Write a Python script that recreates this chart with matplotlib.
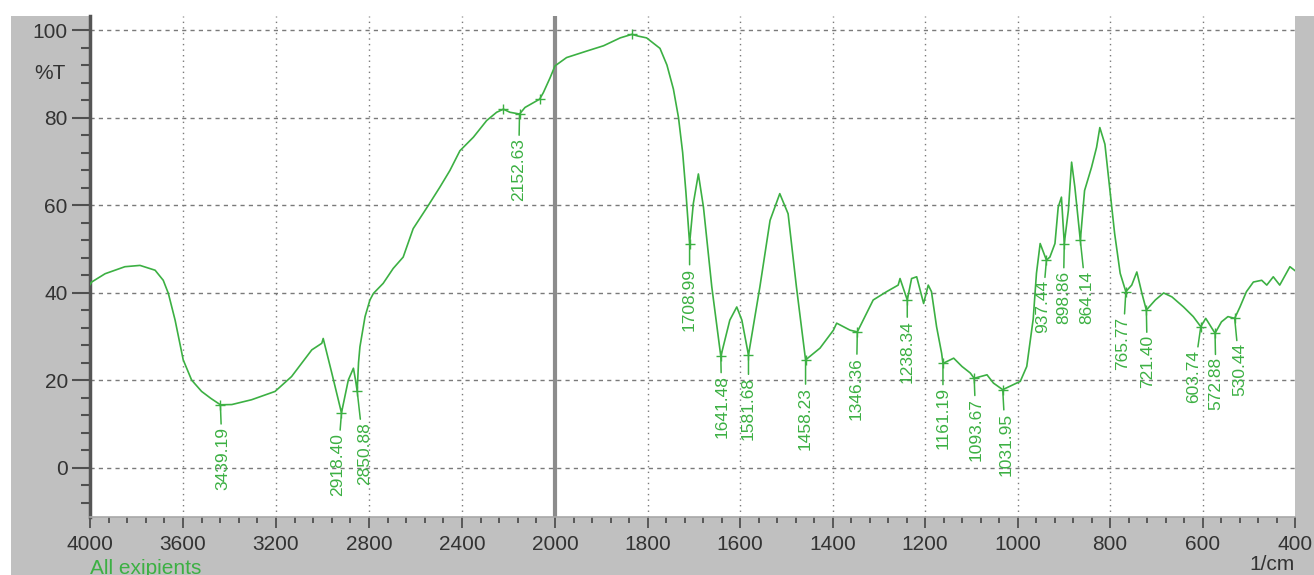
import numpy as np
import matplotlib
matplotlib.use("Agg")
import matplotlib.pyplot as plt
from matplotlib.patches import Rectangle

plt.rcParams['font.family'] = ['Liberation Sans', 'DejaVu Sans']

# ---------------- data ----------------
wavenumber = [4000, 3993, 3935, 3850, 3785, 3720, 3685, 3663, 3634, 3599, 3563, 3520, 3480,
              3439.19, 3390, 3305, 3204, 3133, 3046, 3003, 2997, 2960, 2918.40, 2889, 2867,
              2858, 2850.88, 2845, 2839, 2817, 2796, 2781, 2739, 2696, 2653, 2610, 2545, 2495,
              2452, 2409, 2351, 2294, 2251, 2222, 2194, 2152.63, 2129, 2093, 2066, 2050, 2021,
              2000, 1975, 1931, 1895, 1859, 1834, 1820, 1802, 1773, 1758, 1744, 1733, 1724,
              1717, 1708.99, 1701, 1690, 1679, 1661, 1641.48, 1622, 1607, 1596, 1581.68, 1557,
              1535, 1514, 1496, 1478, 1458.23, 1427, 1398, 1391, 1362, 1346.36, 1312, 1283,
              1258, 1254, 1238.34, 1229, 1218, 1203, 1193, 1186, 1175, 1164, 1161.19, 1138,
              1120, 1102, 1093.67, 1066, 1052, 1031.95, 994, 980, 966, 959, 951, 937.44, 930,
              919, 912, 905, 898.86, 890, 883, 876, 864.14, 855, 840, 829, 822, 811, 800, 790,
              778, 765.77, 753, 742, 731, 721.40, 702, 684, 666, 641, 620, 603.74, 593, 572.88,
              559, 545, 530.44, 519, 505, 490, 472, 461, 447, 433, 411, 400]
transmittance = [41.8, 42.4, 44.3, 45.9, 46.2, 45.1, 42.8, 39.8, 33.7, 24.6, 20.0, 17.4, 15.8,
                 14.35, 14.4, 15.5, 17.4, 20.8, 26.9, 28.4, 29.5, 21.6, 12.5, 20.0, 22.7,
                 20.0, 17.5, 24.0, 27.6, 34.5, 38.3, 39.8, 42.1, 45.5, 48.1, 54.6, 59.9, 64.1,
                 67.9, 72.4, 75.5, 79.3, 81.2, 81.9, 81.2, 80.8, 82.3, 83.4, 84.2, 85.7, 89.1,
                 91.8, 93.7, 95.2, 96.4, 98.2, 99.0, 98.6, 98.2, 95.8, 92.0, 86.5, 80.0, 72.0,
                 63.0, 51.2, 60.3, 67.1, 59.5, 41.3, 25.4, 33.7, 36.7, 33.7, 25.7, 41.3,
                 56.5, 62.6, 58.0, 41.3, 24.6, 27.3, 31.4, 33.0, 31.4, 31.0, 38.3, 40.2,
                 41.7, 43.2, 38.3, 43.2, 43.6, 37.5, 41.7, 40.2, 32.2, 26.1, 23.8, 25.0,
                 23.1, 21.6, 20.4, 21.2, 19.3, 17.8, 19.7, 23.1, 34.0, 44.4, 51.2, 47.4, 48.1,
                 51.2, 59.5, 61.8, 51.2, 58.8, 69.8, 64.1, 51.9, 63.3, 68.6, 73.2, 77.7, 73.9,
                 63.3, 53.5, 44.4, 40.2, 41.7, 44.7, 39.8, 36.0, 38.3, 39.9, 39.0, 36.7, 34.5,
                 32.2, 34.1, 30.7, 33.3, 34.5, 34.1, 36.7, 40.2, 42.4, 42.8, 41.7, 43.6, 41.7,
                 45.9, 45.0]

peak_labels = [3439.19, 2918.40, 2850.88, 2152.63, 1708.99, 1641.48, 1581.68, 1458.23,
               1346.36, 1238.34, 1161.19, 1093.67, 1031.95, 937.44, 898.86, 864.14,
               765.77, 721.40, 603.74, 572.88, 530.44]
extra_marks = [2222, 2066, 1834]

x_major = [4000, 3600, 3200, 2800, 2400, 2000, 1800, 1600, 1400, 1200, 1000, 800, 600, 400]
y_major = [0, 20, 40, 60, 80, 100]

# label offsets in pixels (dx right, dy down) from peak
label_offsets = {3439.19: (2, 22), 2918.40: (-4, 20), 2850.88: (7, 31), 2152.63: (-1, 24),
                 1708.99: (0, 24), 1641.48: (1, 19), 1581.68: (0, 22), 1458.23: (0, 27),
                 1346.36: (-1, 25), 1238.34: (0, 20), 1161.19: (0, 24), 1093.67: (2, 20),
                 1031.95: (3, 23), 937.44: (-4, 20), 898.86: (-1, 27), 864.14: (6, 30),
                 765.77: (-3, 25), 721.40: (1, 25), 603.74: (-7, 23), 572.88: (1, 24),
                 530.44: (5, 25)}

GREEN = '#3cb043'
W, H = 1314, 575

# --------------- scale ---------------
def fwd(w):
    w = np.asarray(w, dtype=float)
    return np.where(w >= 2000, 740 + (w - 2000) * (465 / 2000), (w - 400) * (740 / 1600))

def inv(u):
    u = np.asarray(u, dtype=float)
    return np.where(u >= 740, 2000 + (u - 740) * (2000 / 465), 400 + u * (1600 / 740))

fig = plt.figure(figsize=(W / 100, H / 100), dpi=100, facecolor='white')
fig.patches.append(Rectangle((11 / W, 0), 1, (H - 16) / H, transform=fig.transFigure,
                             facecolor='#c0c0c0', edgecolor='none', zorder=-10))
ax = fig.add_axes([90 / W, (H - 517) / H, (1295 - 90) / W, (517 - 16) / H])
ax.set_facecolor('white')
ax.set_xscale('function', functions=(fwd, inv))
ax.set_xlim(4000, 400)
ax.set_ylim(-11.3, 103.2)

# ticks
x_minor = [v for v in np.arange(4000, 2000, -80) if v not in x_major] + \
          [v for v in np.arange(2000, 399, -40) if v not in x_major]
ax.set_xticks(x_major)
ax.set_xticklabels([str(v) for v in x_major])
ax.set_xticks(x_minor, minor=True)
ax.set_yticks(y_major)
ax.set_yticks([v for v in np.arange(-8, 101, 4) if v not in y_major], minor=True)
ax.tick_params(axis='y', which='major', direction='out', length=13, width=1.5,
               color='#505050', labelsize=15, labelcolor='#333333', pad=3)
ax.tick_params(axis='y', which='minor', direction='out', length=6.5, width=1.5, color='#505050')
ax.tick_params(axis='x', which='major', direction='out', length=8, width=1.3,
               color='#505050', labelsize=15, labelcolor='#333333', pad=5)
ax.tick_params(axis='x', which='minor', direction='out', length=4, width=1.3, color='#505050')

for s in ['top', 'right']:
    ax.spines[s].set_visible(False)
ax.spines['left'].set_color('#555555')
ax.spines['left'].set_linewidth(2.5)
ax.spines['bottom'].set_color('#a8a8a8')
ax.spines['bottom'].set_linewidth(1.2)

# grid
for yv in y_major:
    ax.axhline(yv, color='#7a7a7a', lw=1.0, ls=(0, (3, 3)), zorder=1)
for xv in x_major[1:-1]:
    if xv != 2000:
        ax.axvline(xv, color='#7a7a7a', lw=1.0, ls=(0, (1, 3)), zorder=1)
ax.axvline(2000, color='#8c8c8c', lw=3, zorder=1)

# spectrum
ax.plot(wavenumber, transmittance, color=GREEN, lw=1.2, zorder=3)

# peak labels
for pk in peak_labels:
    val = float(np.interp(pk, wavenumber[::-1], transmittance[::-1]))
    dx, dy = label_offsets[pk]
    ax.annotate(f"{pk:.2f}", xy=(pk, val), xytext=(dx * 0.72, -dy * 0.72),
                textcoords='offset points', rotation=90, ha='center', va='top',
                fontsize=12.5, color=GREEN, zorder=4,
                arrowprops=dict(arrowstyle='-', color=GREEN, lw=1.1, shrinkA=0, shrinkB=0))
    ax.plot([pk], [val], marker='+', ms=7, mew=1.0, color=GREEN, zorder=4)
for pk in extra_marks:
    val = float(np.interp(pk, wavenumber[::-1], transmittance[::-1]))
    ax.plot([pk], [val], marker='+', ms=7, mew=1.0, color=GREEN, zorder=4)

# axis texts
ax.annotate('%T', xy=(0, 90), xycoords=('axes fraction', 'data'), xytext=(-24 * 0.72, 0),
            textcoords='offset points', ha='right', va='center', fontsize=15, color='#333333')
fig.text(1295 / W, 1 - 565 / H, '1/cm', ha='right', va='center', fontsize=15, color='#333333')
fig.text(90 / W, 1 - 568 / H, 'All exipients', ha='left', va='center', fontsize=15, color=GREEN)

fig.savefig('out.png', dpi=100, facecolor='white')
